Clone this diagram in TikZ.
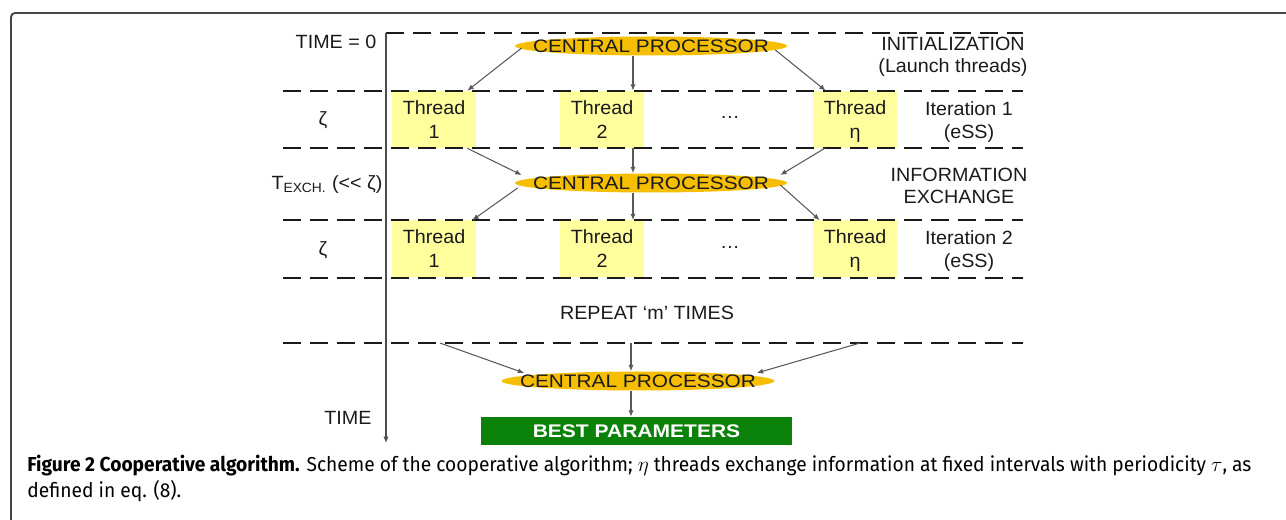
\documentclass[tikz,border=0pt]{standalone}
\usepackage{fontspec}
\usepackage{tikz}
\usetikzlibrary{shapes.geometric, arrows.meta, calc}
\newfontfamily\diagfont[FakeStretch=1.03]{Liberation Sans}
\newfontfamily\cpufont[FakeStretch=1.15]{Liberation Sans}
\newfontfamily\capfont[FakeStretch=0.95]{Fira Sans}
\newlength{\pxu}
\setlength{\pxu}{0.02cm}
\definecolor{cpuyellow}{RGB}{246,190,0}
\definecolor{thryellow}{RGB}{255,255,158}
\definecolor{bestgreen}{RGB}{10,130,10}
\definecolor{ink}{RGB}{26,26,26}
\definecolor{framegray}{RGB}{70,70,70}
\newcommand{\thread}[4]{%
	\node[thr] (#1) at (#2,#3) {Thread\\\smash{#4}};}
\newcommand{\cpu}[4]{%
	\node[cpu, minimum width=#4\pxu] (#1) at (#2,#3) {};
	\node[cputext] (#1t) at (#1) {CENTRAL PROCESSOR};}

\begin{document}
\begin{tikzpicture}[x=0.02cm, y=-0.02cm,
	lbl/.style={font=\diagfont\fontsize{10.9}{12.6}\selectfont, text=ink, align=center, inner sep=0pt},
	thr/.style={fill=thryellow, minimum width=84\pxu, minimum height=57\pxu, inner sep=0pt,
		align=center, font=\diagfont\fontsize{10.9}{13.7}\selectfont, text=ink},
	cpu/.style={ellipse, fill=cpuyellow, minimum height=19\pxu, inner sep=0pt},
	cputext/.style={font=\cpufont\fontsize{10.3}{12}\selectfont, text=ink, inner sep=0pt},
	best/.style={fill=bestgreen, minimum width=311\pxu, minimum height=28\pxu, inner sep=0pt,
		font=\cpufont\bfseries\fontsize{10.4}{12}\selectfont, text=white},
	sep/.style={ink, line width=1.5pt, dash pattern=on 0.36cm off 0.18cm},
	link/.style={draw=black!65, line width=0.6pt, -{Latex[length=3.6pt,width=3pt]}},
	axis/.style={draw=black!70, line width=0.6pt, -{Latex[length=3.6pt,width=3pt]}}]
	\useasboundingbox (0,0) rectangle (1286,520);
	% frame of the figure
	\draw[framegray, line width=1.1pt, rounded corners=4\pxu] (11,530) -- (11,13) -- (1296,13);
	% threads
	\thread{ta1}{434}{119.5}{1}
	\thread{ta2}{602}{119.5}{2}
	\thread{tan}{855}{119.5}{η}
	\thread{tb1}{434}{249}{1}
	\thread{tb2}{602}{249}{2}
	\thread{tbn}{855}{249}{η}
	\node[lbl] (dotsa) at (730,117) {\ldots};
	\node[lbl] (dotsb) at (730,247) {\ldots};
	% separators and time axis
	\coordinate (t0) at (386,33);
	\coordinate (tend) at (386,443);
	\draw[sep] (t0) -- (1023,33);
	\foreach \y in {91,148,220,278,343}
		\draw[sep] (283,\y) -- (1023,\y);
	\draw[axis] (t0) -- (tend);
	% central processors
	\cpu{cp1}{651}{46}{272}
	\cpu{cp2}{651}{183}{272}
	\cpu{cp3}{638}{381}{273}
	\node[best] (best) at (636.5,431) {BEST PARAMETERS};
	% left labels
	\node[lbl] (tzero) at (336,42) {TIME = 0};
	\node[lbl] (taua) at (323,120) {ζ};
	\node[lbl] (texch) at (327,185) {T\textsubscript{EXCH.} (<< ζ)};
	\node[lbl] (taub) at (323,250) {ζ};
	\node[lbl] (time) at (348,418) {TIME};
	% right labels
	\node[lbl] (init) at (953,57) {INITIALIZATION\\(Launch threads)};
	\node[lbl] (itera) at (969,122) {Iteration 1\\(eSS)};
	\node[lbl] (info) at (959,186) {INFORMATION\\EXCHANGE};
	\node[lbl] (iterb) at (969,251) {Iteration 2\\(eSS)};
	\node[lbl] (repeat) at (647,313) {REPEAT ‘m’ TIMES};
	% launch
	\draw[link] ($(cp1.west)+(7,2)$) -- ($(ta1.north east)+(-9,0)$);
	\draw[link] ($(cp1.south)+(-18,0)$) -- ($(ta2.north)+(31,0)$);
	\draw[link] ($(cp1.east)+(-12,4)$) -- ($(tan.north west)+(13,0)$);
	% exchange
	\draw[link] ($(ta1.south east)+(-9,0)$) -- ($(cp2.west)+(7,-8)$);
	\draw[link] ($(ta2.south)+(31,0)$) -- ($(cp2.north)+(-18,0)$);
	\draw[link] ($(tan.south west)+(12,0)$) -- ($(cp2.east)+(-7,-8)$);
	\draw[link] ($(cp2.west)+(3,5)$) -- ($(tb1.north east)+(-4,0)$);
	\draw[link] ($(cp2.south)+(-18,0)$) -- ($(tb2.north)+(31,0)$);
	\draw[link] ($(cp2.east)+(-7,2)$) -- ($(tbn.north west)+(7,0)$);
	% final gathering
	\coordinate (ga) at (440,343);
	\coordinate (gb) at (631,343);
	\coordinate (gc) at (860,343);
	\draw[link] (ga) -- ($(cp3.west)+(23,-8)$);
	\draw[link] (gb) -- ($(cp3.north)+(-7,0)$);
	\draw[link] (gc) -- ($(cp3.east)+(-18,-8)$);
	\draw[link] ($(cp3.south)+(-7,0)$) -- ($(best.north)+(-5.5,0)$);
	% caption
	\node[anchor=base west, inner sep=0pt, font=\capfont\fontsize{11.5}{13}\selectfont] (capa) at (27,472)
		{\textbf{Figure 2 Cooperative algorithm.} Scheme of the cooperative algorithm; $\eta$ threads exchange information at fixed intervals with periodicity $\tau$, as};
	\node[anchor=base west, inner sep=0pt, font=\capfont\fontsize{11.5}{13}\selectfont] (capb) at (27,498)
		{defined in eq. (8).};
\end{tikzpicture}
\end{document}
